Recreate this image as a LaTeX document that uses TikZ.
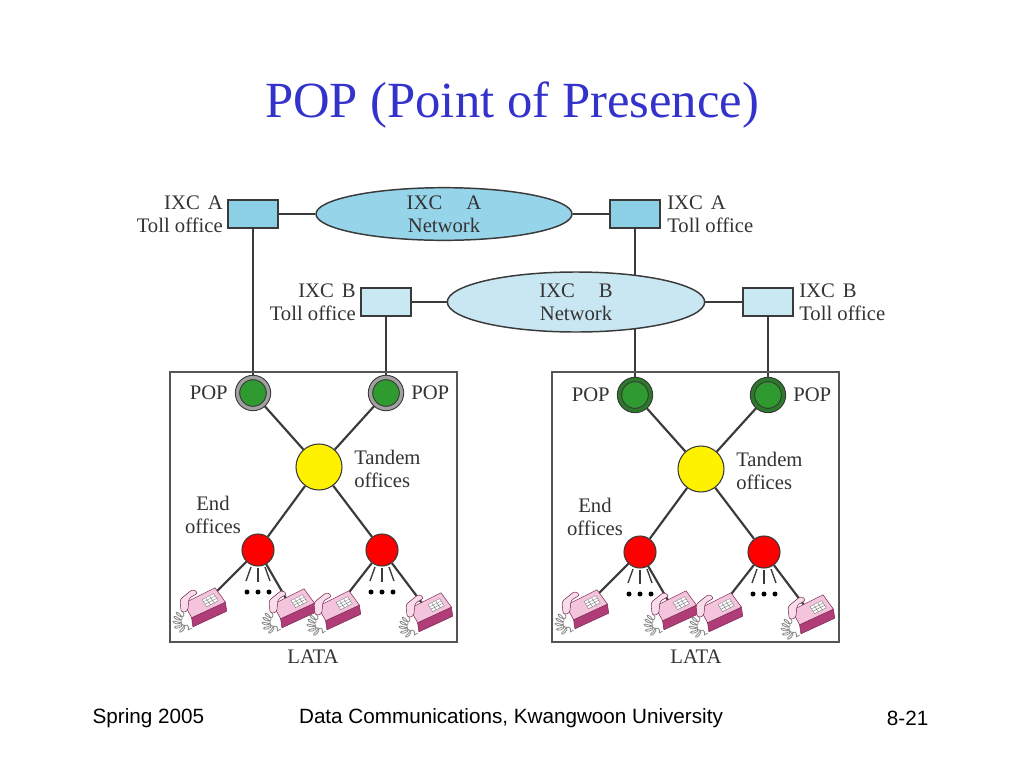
\documentclass[tikz,border=0pt]{standalone}
\usepackage{fontspec}
\setmainfont{Liberation Serif}
\setsansfont{Liberation Sans}
\usetikzlibrary{shapes.geometric,decorations.pathmorphing,calc}
\definecolor{titleblue}{HTML}{3333CC}
\definecolor{txt}{HTML}{333333}
\definecolor{edge}{HTML}{3A3A3A}
\definecolor{tollAfill}{HTML}{8CD0E6}
\definecolor{netAfill}{HTML}{96D4EA}
\definecolor{tollBfill}{HTML}{C8E8F2}
\definecolor{netBfill}{HTML}{C9E7F3}
\definecolor{popgreen}{HTML}{2F9A2F}
\definecolor{ringgray}{HTML}{A0A0A0}
\definecolor{ringgreen}{HTML}{2A7A2A}
\definecolor{lataedge}{HTML}{555555}
\definecolor{phlight}{HTML}{F4C4DC}
\definecolor{phdark}{HTML}{B03C78}
\definecolor{phedge}{HTML}{7A2A55}
\definecolor{phhand}{HTML}{F8DCEA}
\definecolor{cordgray}{HTML}{8A8A8A}
\pgfdeclarelayer{background}
\pgfdeclarelayer{paper}
\pgfsetlayers{paper,background,main}
\newcommand\phonedraw{%
  \draw[cordgray, line width=0.6pt, decorate, decoration={coil, aspect=0.5, segment length=3pt, amplitude=3pt}]
    (-15,4) .. controls (-22,12) and (-18,19) .. (-8,17);
  \filldraw[fill=phdark, draw=phedge, line width=0.4pt] (-8,9) -- (18,-3) -- (19,4) -- (-7,16) -- cycle;
  \filldraw[fill=phlight, draw=phedge, line width=0.4pt] (-14,-2) -- (10,-14) -- (18,-3) -- (-8,9) -- cycle;
  \filldraw[fill=white, draw=gray, line width=0.3pt] (0,-5) -- (9,-9.5) -- (12.5,-4) -- (3.5,0.5) -- cycle;
  \draw[gray, line width=0.3pt] (1.2,-3.2) -- (10.2,-7.7) (2.3,-1.4) -- (11.3,-5.9)
     (3,-6) -- (6.5,-0.8) (6,-7.5) -- (9.5,-2.2);
  \filldraw[fill=phhand, draw=phedge, line width=0.4pt, rounded corners=2pt]
     (-17,-5) -- (-7,-13) -- (-3,-10) -- (-10,-6) -- (-11,4) -- (-16,5) -- cycle;
}
\begin{document}
\begin{tikzpicture}[x=0.75pt,y=-0.75pt,
  lbl/.style={text=txt, font=\fontsize{15.5pt}{17.5pt}\selectfont, inner sep=0pt},
  tollA/.style={draw=edge, line width=1.1pt, fill=tollAfill, minimum width=37.5pt, minimum height=21pt, inner sep=0pt},
  tollB/.style={tollA, fill=tollBfill},
  netA/.style={ellipse, draw=edge, line width=1.1pt, fill=netAfill, minimum width=192pt, minimum height=39pt,
     align=center, text=txt, font=\fontsize{15.5pt}{17.5pt}\selectfont, inner sep=0pt},
  netB/.style={netA, fill=netBfill, minimum width=193pt, minimum height=45pt},
  conn/.style={line width=1.6pt, draw=edge},
  ray/.style={line width=1pt, draw=edge},
  popnode/.style={circle, draw=edge, line width=0.8pt, fill=popgreen, double distance=2.4pt, minimum size=23.25pt, inner sep=0pt},
  tandem/.style={circle, draw=edge, line width=0.8pt, fill=yellow, minimum size=34.5pt, inner sep=0pt},
  endoff/.style={circle, draw=edge, line width=0.8pt, fill=red, minimum size=24pt, inner sep=0pt},
  lata/.style={draw=lataedge, line width=1.1pt, minimum width=215.25pt, minimum height=202.5pt, inner sep=0pt},
  phone/.style={minimum width=34pt, minimum height=28pt, inner sep=0pt},
  footer/.style={font=\sffamily\fontsize{15.5pt}{17pt}\selectfont}
]
\useasboundingbox (0,0) rectangle (1024,768);
\begin{pgfonlayer}{paper}
  \fill[white] (0,0) rectangle (1024,768);
\end{pgfonlayer}

% title
\node[text=titleblue, font=\fontsize{38pt}{44pt}\selectfont] (title) at (512,105) {POP (Point of Presence)};

% footer
\node[footer, anchor=west] (f1) at (88,718) {Spring 2005};
\node[footer] (f2) at (511,718) {Data Communications, Kwangwoon University};
\node[footer, anchor=east] (f3) at (933,718) {8-21};

% LATA boxes
\node[lata] (lataL) at (313.5,507) {};
\node[lata] (lataR) at (695.5,507) {};
\node[lbl] (lataLt) at (313,657) {LATA};
\node[lbl] (lataRt) at (696,657) {LATA};

% IXC networks and toll offices
\node[netA] (netA) at (444,214) {IXC\hspace{18pt}A\\Network};
\node[netB] (netB) at (576,302) {IXC\hspace{18pt}B\\Network};
\node[tollA] (tAL) at (253,214) {};
\node[tollA] (tAR) at (635,214) {};
\node[tollB] (tBL) at (386,302) {};
\node[tollB] (tBR) at (768,302) {};
\node[lbl, align=right, anchor=east] (tALt) at (223,214) {IXC\hspace{6pt}A\\Toll office};
\node[lbl, align=left, anchor=west] (tARt) at (667,214) {IXC\hspace{6pt}A\\Toll office};
\node[lbl, align=right, anchor=east] (tBLt) at (356,302) {IXC\hspace{6pt}B\\Toll office};
\node[lbl, align=left, anchor=west] (tBRt) at (799,302) {IXC\hspace{6pt}B\\Toll office};

% LATA contents
\foreach \s/\dx/\dy/\ringc in {L/0/0/ringgray, R/382/2/ringgreen}{
  \begin{scope}[shift={(\dx,\dy)}]
    \node[popnode, double=\ringc] (\s pop1) at (253,393) {};
    \node[popnode, double=\ringc] (\s pop2) at (386,393) {};
    \node[lbl, anchor=east] (\s popt1) at (228,393) {POP};
    \node[lbl, anchor=west] (\s popt2) at (411,393) {POP};
    \node[tandem] (\s tan) at (319,467) {};
    \node[lbl, align=left, anchor=west] (\s tant) at (354,469) {Tandem\\offices};
    \node[endoff] (\s e1) at (258,550) {};
    \node[endoff] (\s e2) at (382,550) {};
    \node[lbl, align=center] (\s et) at (213,515) {End\\offices};
    \node[phone] (\s ph1) at (202,606) {};
    \node[phone] (\s ph2) at (291,607) {};
    \node[phone] (\s ph3) at (336,609) {};
    \node[phone] (\s ph4) at (428,611) {};
    \foreach \e in {e1,e2}{
      \draw[ray] ($(\s\e)+(-7,17)$) -- ++(-5,14);
      \draw[ray] ($(\s\e)+(0,18)$) -- ++(0,14);
      \draw[ray] ($(\s\e)+(7,17)$) -- ++(5,14);
      \fill[black] ($(\s\e)+(-11,42)$) circle[radius=2.5] ($(\s\e)+(0,42)$) circle[radius=2.5] ($(\s\e)+(11,42)$) circle[radius=2.5];
    }
    \begin{pgfonlayer}{background}
      \draw[conn] (\s pop1) -- (\s tan);
      \draw[conn] (\s pop2) -- (\s tan);
      \draw[conn] (\s tan) -- (\s e1);
      \draw[conn] (\s tan) -- (\s e2);
      \draw[conn] (\s e1) -- (\s ph1.center);
      \draw[conn] (\s e1) -- (\s ph2.center);
      \draw[conn] (\s e2) -- (\s ph3.center);
      \draw[conn] (\s e2) -- (\s ph4.center);
    \end{pgfonlayer}
  \end{scope}
  \foreach \p in {ph1,ph2,ph3,ph4}{
    \begin{scope}[shift={(\s\p.center)}, scale=1.3]
      \phonedraw
    \end{scope}
  }
}

\begin{pgfonlayer}{background}
  \draw[conn] (tAL) -- (netA);
  \draw[conn] (netA) -- (tAR);
  \draw[conn] (tBL) -- (netB);
  \draw[conn] (netB) -- (tBR);
  \draw[conn] (tAL) -- (Lpop1);
  \draw[conn] (tBL) -- (Lpop2);
  \draw[conn] (tAR.center) -- (Rpop1);
  \draw[conn] (tBR) -- (Rpop2);
\end{pgfonlayer}
\end{tikzpicture}
\end{document}
